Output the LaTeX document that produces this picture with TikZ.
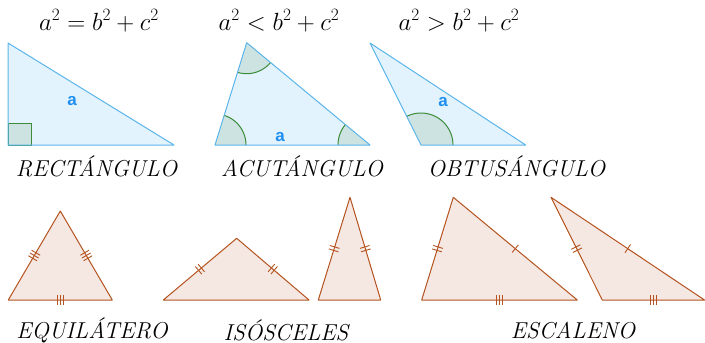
\documentclass[tikz,border=0pt]{standalone}
\usepackage{fontspec}
\newfontfamily\sidefont{Liberation Sans}
\usepackage{tikz}
\usetikzlibrary{decorations.markings}
\definecolor{triblue}{HTML}{5BB5EA}
\definecolor{trifill}{HTML}{E3F3FD}
\definecolor{sideblue}{HTML}{1E8FF0}
\definecolor{anglegreen}{HTML}{3C8C3C}
\definecolor{anglefill}{HTML}{CDE3E1}
\definecolor{edgebrown}{HTML}{B5531F}
\definecolor{edgefill}{HTML}{F5E7E2}

\begin{document}
\begin{tikzpicture}[x=1pt, y=-1pt,
    tri/.style={draw=triblue, line width=1pt, line join=round},
    ang/.style={draw=anglegreen, fill=anglefill, line width=1pt},
    brtri/.style={draw=edgebrown, fill=edgefill, line width=1pt, line join=round},
    sidelbl/.style={font=\sidefont\bfseries\fontsize{17}{17}\selectfont, text=sideblue},
    formula/.style={anchor=base, font=\fontsize{24}{28}\selectfont},
    kind/.style={anchor=base, font=\fontsize{23}{27}\selectfont\itshape},
    tick/.style={draw=edgebrown, line width=0.9pt},
    mkone/.style={postaction={decorate, decoration={markings, mark=at position 0.5 with {
        \draw[tick] (0,-5pt) -- (0,5pt);}}}},
    mktwo/.style={postaction={decorate, decoration={markings, mark=at position 0.5 with {
        \draw[tick] (-1.8pt,-5pt) -- (-1.8pt,5pt) (1.8pt,-5pt) -- (1.8pt,5pt);}}}},
    mkthree/.style={postaction={decorate, decoration={markings, mark=at position 0.5 with {
        \draw[tick] (-3.2pt,-5pt) -- (-3.2pt,5pt) (0,-5pt) -- (0,5pt) (3.2pt,-5pt) -- (3.2pt,5pt);}}}}
]
\useasboundingbox (0,0) rectangle (705,343);

% Vertices, top row
\coordinate (r1) at (8,43);
\coordinate (r2) at (8,145);
\coordinate (r3) at (174,145);
\coordinate (c1) at (246.7,42.7);
\coordinate (c2) at (215,145);
\coordinate (c3) at (370,145);
\coordinate (o1) at (370,43);
\coordinate (o2) at (421,145);
\coordinate (o3) at (525.7,145);

% Right triangle
\fill[trifill] (r1) -- (r2) -- (r3) -- cycle;
\draw[ang] (r2) rectangle ++(23,-22);
\draw[tri] (r1) -- (r2) -- (r3) -- cycle;

% Acute triangle
\fill[trifill] (c1) -- (c2) -- (c3) -- cycle;
\begin{scope}
  \clip (c1) -- (c2) -- (c3) -- cycle;
  \draw[ang] (c1) circle[radius=31];
  \draw[ang] (c2) circle[radius=31];
  \draw[ang] (c3) circle[radius=32];
\end{scope}
\draw[tri] (c1) -- (c2) -- (c3) -- cycle;

% Obtuse triangle
\fill[trifill] (o1) -- (o2) -- (o3) -- cycle;
\begin{scope}
  \clip (o1) -- (o2) -- (o3) -- cycle;
  \draw[ang] (o2) circle[radius=32];
\end{scope}
\draw[tri] (o1) -- (o2) -- (o3) -- cycle;

\node[sidelbl] (ra) at (72,101) {a};
\node[sidelbl] (ca) at (280,137) {a};
\node[sidelbl] (oa) at (443,102) {a};

\node[formula] (f1) at (99,30) {$a^2=b^2+c^2$};
\node[formula] (f2) at (279,30) {$a^2<b^2+c^2$};
\node[formula] (f3) at (459,30) {$a^2>b^2+c^2$};

\node[kind] (rect) at (96.5,176) {RECTÁNGULO};
\node[kind] (acut) at (302,176) {ACUTÁNGULO};
\node[kind] (obtu) at (516.5,176) {OBTUSÁNGULO};

% Vertices, bottom row
\coordinate (e1) at (60.3,211);
\coordinate (e2) at (8.3,300);
\coordinate (e3) at (112.3,300);
\coordinate (i1) at (236.7,238.3);
\coordinate (i2) at (163.3,300);
\coordinate (i3) at (309,300);
\coordinate (j1) at (350,197.3);
\coordinate (j2) at (318.3,300);
\coordinate (j3) at (380.7,300);
\coordinate (s1) at (453.3,197.3);
\coordinate (s2) at (421.7,300);
\coordinate (s3) at (577.3,300);
\coordinate (t1) at (551,197.3);
\coordinate (t2) at (602.3,300);
\coordinate (t3) at (704.5,300);

% Equilateral
\draw[brtri] (e1) -- (e2) -- (e3) -- cycle;
\path[mkthree] (e2) -- (e1);
\path[mkthree] (e1) -- (e3);
\path[mkthree] (e2) -- (e3);

% Isosceles
\draw[brtri] (i1) -- (i2) -- (i3) -- cycle;
\path[mktwo] (i2) -- (i1);
\path[mktwo] (i1) -- (i3);
\draw[brtri] (j1) -- (j2) -- (j3) -- cycle;
\path[mktwo] (j2) -- (j1);
\path[mktwo] (j1) -- (j3);

% Scalene
\draw[brtri] (s1) -- (s2) -- (s3) -- cycle;
\path[mktwo] (s2) -- (s1);
\path[mkone] (s1) -- (s3);
\path[mkthree] (s2) -- (s3);
\draw[brtri] (t1) -- (t2) -- (t3) -- cycle;
\path[mktwo] (t1) -- (t2);
\path[mkone] (t1) -- (t3);
\path[mkthree] (t2) -- (t3);

\node[kind] (equi) at (92,338) {EQUILÁTERO};
\node[kind] (isos) at (286,340) {ISÓSCELES};
\node[kind] (esca) at (573,338) {ESCALENO};
\end{tikzpicture}
\end{document}
